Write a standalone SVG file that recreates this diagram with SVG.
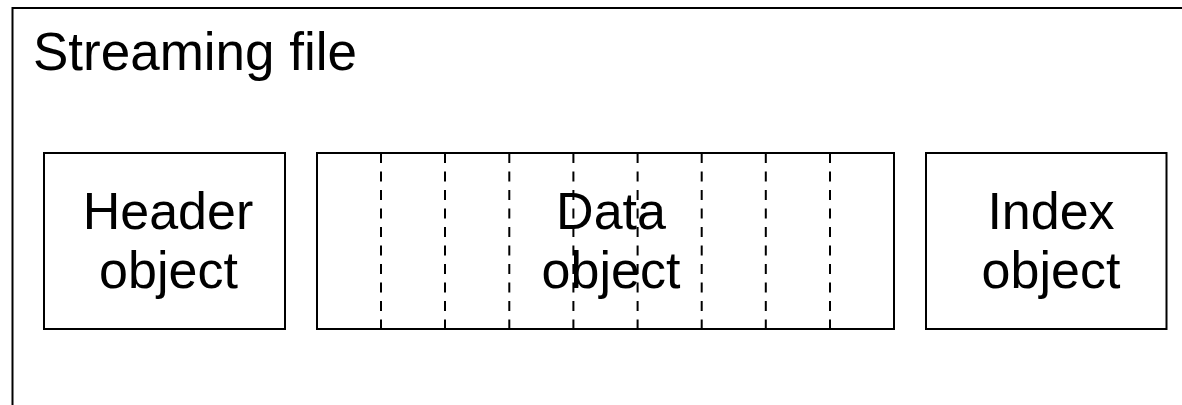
<svg xmlns="http://www.w3.org/2000/svg" width="1182" height="405" viewBox="0 0 1182 405">
<style>
.box{fill:#fff;stroke:#000;stroke-width:2}
.dash{stroke:#000;stroke-width:2;stroke-dasharray:10 8.5;fill:none}
.lbl{font-family:"Liberation Sans",Arial,Helvetica,sans-serif;font-size:52px;fill:#000;text-anchor:middle}
</style>
<rect width="1182" height="405" fill="#fff"/>
<g id="streaming-file">
<rect x="12.5" y="8" width="1200" height="420" fill="none" stroke="#000" stroke-width="2"/>
<text x="33" y="70" font-family="Liberation Sans, Arial, sans-serif" font-size="53">Streaming file</text>
</g>
<g id="header-object">
<rect class="box" x="44" y="153" width="241" height="176"/>
<text class="lbl" x="168" y="229">Header</text>
<text class="lbl" x="168.5" y="288">object</text>
</g>
<g id="data-object">
<rect class="box" x="317" y="153" width="577" height="176"/>
<text class="lbl" x="611" y="229">Data</text>
<text class="lbl" x="611" y="288">object</text>
<g class="dash">
<line x1="381" y1="153" x2="381" y2="329"/>
<line x1="445" y1="153" x2="445" y2="329"/>
<line x1="509.3" y1="153" x2="509.3" y2="329"/>
<line x1="573.4" y1="153" x2="573.4" y2="329"/>
<line x1="637.6" y1="153" x2="637.6" y2="329"/>
<line x1="701.7" y1="153" x2="701.7" y2="329"/>
<line x1="765.8" y1="153" x2="765.8" y2="329"/>
<line x1="830" y1="153" x2="830" y2="329"/>
</g>
</g>
<g id="index-object">
<rect class="box" x="926" y="153" width="240.5" height="176"/>
<text class="lbl" x="1051" y="229">Index</text>
<text class="lbl" x="1051" y="288">object</text>
</g>
<g id="connectors"></g>
</svg>
